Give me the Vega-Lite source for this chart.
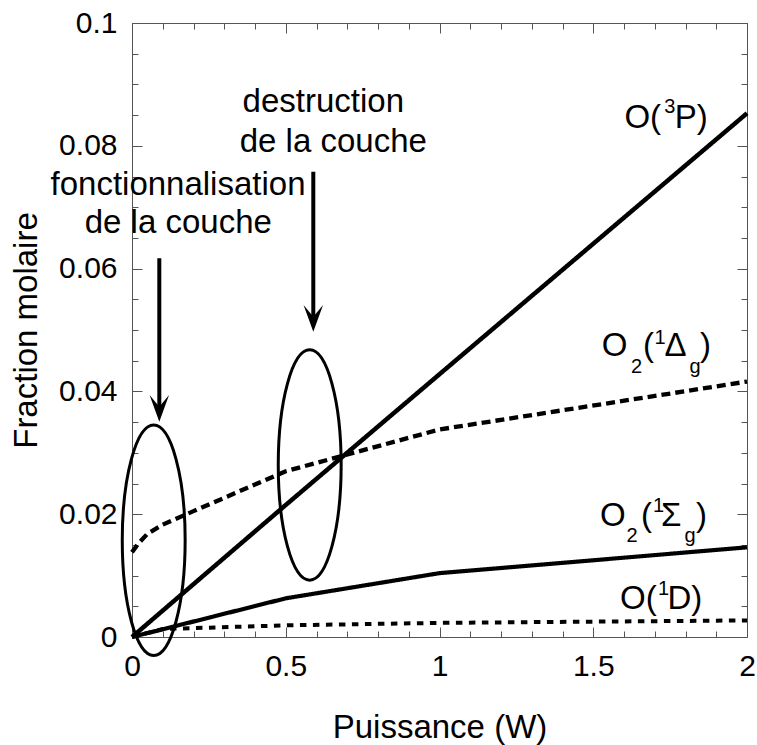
{
  "$schema": "https://vega.github.io/schema/vega-lite/v6.json",
  "width": 615,
  "height": 614,
  "autosize": {"type": "none"},
  "padding": {"left": 132, "top": 23, "right": 10, "bottom": 108},
  "background": "white",
  "config": {
    "view": {"stroke": null},
    "font": "Liberation Sans",
    "axis": {
      "domainColor": "#555",
      "domainWidth": 1,
      "tickColor": "#555",
      "tickWidth": 1,
      "labelFont": "Liberation Sans",
      "labelFontSize": 30,
      "labelColor": "black",
      "titleFont": "Liberation Sans",
      "titleFontSize": 33,
      "titleFontWeight": "normal",
      "titleColor": "black",
      "grid": false,
      "labelFlush": false,
      "labelOverlap": false,
      "labelBound": false
    }
  },
  "datasets": {
    "curves": [
      {"species": "O(3P)", "P": 0, "F": 0},
      {"species": "O(3P)", "P": 0.5, "F": 0.0215},
      {"species": "O(3P)", "P": 1, "F": 0.0428},
      {"species": "O(3P)", "P": 2, "F": 0.0853},
      {"species": "O2(1Δg)", "P": 0, "F": 0.0138},
      {"species": "O2(1Δg)", "P": 0.02, "F": 0.0152},
      {"species": "O2(1Δg)", "P": 0.05, "F": 0.0168},
      {"species": "O2(1Δg)", "P": 0.1, "F": 0.0183},
      {"species": "O2(1Δg)", "P": 0.2, "F": 0.0205},
      {"species": "O2(1Δg)", "P": 0.5, "F": 0.027},
      {"species": "O2(1Δg)", "P": 1, "F": 0.0338},
      {"species": "O2(1Δg)", "P": 2, "F": 0.0416},
      {"species": "O2(1Σg)", "P": 0, "F": 0},
      {"species": "O2(1Σg)", "P": 0.5, "F": 0.0063},
      {"species": "O2(1Σg)", "P": 1, "F": 0.0104},
      {"species": "O2(1Σg)", "P": 2, "F": 0.0146},
      {"species": "O(1D)", "P": 0, "F": 0},
      {"species": "O(1D)", "P": 0.1, "F": 0.0013},
      {"species": "O(1D)", "P": 0.5, "F": 0.0019},
      {"species": "O(1D)", "P": 1, "F": 0.0023},
      {"species": "O(1D)", "P": 2, "F": 0.0027}
    ],
    "ellipses": [
      {"P": 0.0706, "F": 0.01575},
      {"P": 0.5779, "F": 0.02801}
    ],
    "arrows": [
      {"P": 0.0888, "F": 0.06168, "F2": 0.03746, "Fhead": 0.03724},
      {"P": 0.5896, "F": 0.07578, "F2": 0.05217, "Fhead": 0.0519}
    ],
    "notes": [
      {"t": "destruction", "P": 0.6221, "F": 0.08555},
      {"t": "de la couche", "P": 0.6546, "F": 0.07904},
      {"t": "fonctionnalisation", "P": 0.1496, "F": 0.07199},
      {"t": "de la couche", "P": 0.1506, "F": 0.06575}
    ],
    "labels_main": [
      {"t": "O(", "P": 1.6013, "F": 0.08285},
      {"t": "P)", "P": 1.7652, "F": 0.08285},
      {"t": "O", "P": 1.5275, "F": 0.04577},
      {"t": "(", "P": 1.6618, "F": 0.04577},
      {"t": "Δ", "P": 1.7317, "F": 0.04577},
      {"t": ")", "P": 1.8472, "F": 0.04577},
      {"t": "O", "P": 1.522, "F": 0.01808},
      {"t": "(", "P": 1.6553, "F": 0.01808},
      {"t": "Σ", "P": 1.7203, "F": 0.01808},
      {"t": ")", "P": 1.8341, "F": 0.01808},
      {"t": "O(", "P": 1.587, "F": 0.00451},
      {"t": "D)", "P": 1.7415, "F": 0.00451}
    ],
    "labels_small": [
      {"t": "3", "P": 1.7307, "F": 0.08529},
      {"t": "2", "P": 1.6228, "F": 0.04295},
      {"t": "1", "P": 1.6992, "F": 0.04772},
      {"t": "g", "P": 1.813, "F": 0.04295},
      {"t": "2", "P": 1.6081, "F": 0.01552},
      {"t": "1", "P": 1.6943, "F": 0.02036},
      {"t": "g", "P": 1.7967, "F": 0.01552},
      {"t": "1", "P": 1.7106, "F": 0.00684}
    ]
  },
  "layer": [
    {
      "data": {"name": "curves"},
      "mark": {"type": "line", "color": "black", "strokeCap": "butt"},
      "encoding": {
        "x": {
          "field": "P", "type": "quantitative",
          "scale": {"domain": [0, 2], "nice": false, "zero": false},
          "axis": {
            "orient": "bottom",
            "values": [0, 0.1, 0.2, 0.3, 0.4, 0.5, 0.6, 0.7, 0.8, 0.9, 1, 1.1, 1.2, 1.3, 1.4, 1.5, 1.6, 1.7, 1.8, 1.9, 2],
            "tickSize": {"condition": {"test": "abs(datum.value*2 - round(datum.value*2)) < 1e-6", "value": -10}, "value": -6},
            "labelExpr": "abs(datum.value*2 - round(datum.value*2)) < 1e-6 ? format(datum.value, '~g') : ''",
            "labelPadding": 24,
            "title": "Puissance (W)",
            "titlePadding": 26
          }
        },
        "y": {
          "field": "F", "type": "quantitative",
          "scale": {"domain": [0, 0.1], "nice": false, "zero": false},
          "axis": {
            "orient": "left",
            "values": [0, 0.005, 0.01, 0.015, 0.02, 0.025, 0.03, 0.035, 0.04, 0.045, 0.05, 0.055, 0.06, 0.065, 0.07, 0.075, 0.08, 0.085, 0.09, 0.095, 0.1],
            "tickSize": {"condition": {"test": "abs(datum.value*50 - round(datum.value*50)) < 1e-6", "value": -10}, "value": -6},
            "labelExpr": "abs(datum.value*50 - round(datum.value*50)) < 1e-6 ? format(datum.value, '~g') : ''",
            "labelPadding": 25,
            "title": "Fraction molaire",
            "titlePadding": 15
          }
        },
        "strokeDash": {
          "field": "species", "type": "nominal",
          "scale": {"domain": ["O(3P)", "O2(1Δg)", "O2(1Σg)", "O(1D)"], "range": [[1, 0], [9, 5], [1, 0], [6.5, 6.5]]},
          "legend": null
        },
        "strokeWidth": {
          "field": "species", "type": "nominal",
          "scale": {"domain": ["O(3P)", "O2(1Δg)", "O2(1Σg)", "O(1D)"], "range": [4.5, 4, 4, 4]},
          "legend": null
        }
      }
    },
    {
      "data": {"name": "ellipses"},
      "mark": {
        "type": "point",
        "shape": "M0,-1A0.273,1,0,1,1,0,1A0.273,1,0,1,1,0,-1Z",
        "size": 53084,
        "filled": false,
        "stroke": "black",
        "strokeWidth": 3,
        "opacity": 1
      },
      "encoding": {
        "x": {
          "field": "P", "type": "quantitative",
          "scale": {"domain": [0, 2], "nice": false, "zero": false},
          "axis": {
            "orient": "top",
            "values": [0, 0.1, 0.2, 0.3, 0.4, 0.5, 0.6, 0.7, 0.8, 0.9, 1, 1.1, 1.2, 1.3, 1.4, 1.5, 1.6, 1.7, 1.8, 1.9, 2],
            "tickSize": {"condition": {"test": "abs(datum.value*2 - round(datum.value*2)) < 1e-6", "value": -10}, "value": -6},
            "labels": false,
            "title": null
          }
        },
        "y": {
          "field": "F", "type": "quantitative",
          "scale": {"domain": [0, 0.1], "nice": false, "zero": false},
          "axis": {
            "orient": "right",
            "values": [0, 0.005, 0.01, 0.015, 0.02, 0.025, 0.03, 0.035, 0.04, 0.045, 0.05, 0.055, 0.06, 0.065, 0.07, 0.075, 0.08, 0.085, 0.09, 0.095, 0.1],
            "tickSize": {"condition": {"test": "abs(datum.value*50 - round(datum.value*50)) < 1e-6", "value": -10}, "value": -6},
            "labels": false,
            "title": null
          }
        }
      }
    },
    {
      "data": {"name": "arrows"},
      "mark": {"type": "rule", "color": "black", "strokeWidth": 4},
      "encoding": {
        "x": {"field": "P", "type": "quantitative", "scale": {"domain": [0, 2], "nice": false, "zero": false}, "axis": null},
        "y": {"field": "F", "type": "quantitative", "scale": {"domain": [0, 0.1], "nice": false, "zero": false}, "axis": null},
        "y2": {"field": "F2"}
      }
    },
    {
      "data": {"name": "arrows"},
      "mark": {
        "type": "point",
        "shape": "M0,1L-0.73,-1L0,-0.12L0.73,-1Z",
        "size": 713,
        "filled": true,
        "color": "black",
        "opacity": 1,
        "strokeWidth": 0
      },
      "encoding": {
        "x": {"field": "P", "type": "quantitative", "scale": {"domain": [0, 2], "nice": false, "zero": false}, "axis": null},
        "y": {"field": "Fhead", "type": "quantitative", "scale": {"domain": [0, 0.1], "nice": false, "zero": false}, "axis": null}
      }
    },
    {
      "data": {"name": "notes"},
      "mark": {"type": "text", "font": "Liberation Sans", "fontSize": 33, "align": "center", "baseline": "alphabetic", "color": "black"},
      "encoding": {
        "x": {"field": "P", "type": "quantitative", "scale": {"domain": [0, 2], "nice": false, "zero": false}, "axis": null},
        "y": {"field": "F", "type": "quantitative", "scale": {"domain": [0, 0.1], "nice": false, "zero": false}, "axis": null},
        "text": {"field": "t"}
      }
    },
    {
      "data": {"name": "labels_main"},
      "mark": {"type": "text", "font": "Liberation Sans", "fontSize": 33, "align": "left", "baseline": "alphabetic", "color": "black"},
      "encoding": {
        "x": {"field": "P", "type": "quantitative", "scale": {"domain": [0, 2], "nice": false, "zero": false}, "axis": null},
        "y": {"field": "F", "type": "quantitative", "scale": {"domain": [0, 0.1], "nice": false, "zero": false}, "axis": null},
        "text": {"field": "t"}
      }
    },
    {
      "data": {"name": "labels_small"},
      "mark": {"type": "text", "font": "Liberation Sans", "fontSize": 20, "align": "left", "baseline": "alphabetic", "color": "black"},
      "encoding": {
        "x": {"field": "P", "type": "quantitative", "scale": {"domain": [0, 2], "nice": false, "zero": false}, "axis": null},
        "y": {"field": "F", "type": "quantitative", "scale": {"domain": [0, 0.1], "nice": false, "zero": false}, "axis": null},
        "text": {"field": "t"}
      }
    }
  ],
  "resolve": {"axis": {"x": "independent", "y": "independent"}}
}
